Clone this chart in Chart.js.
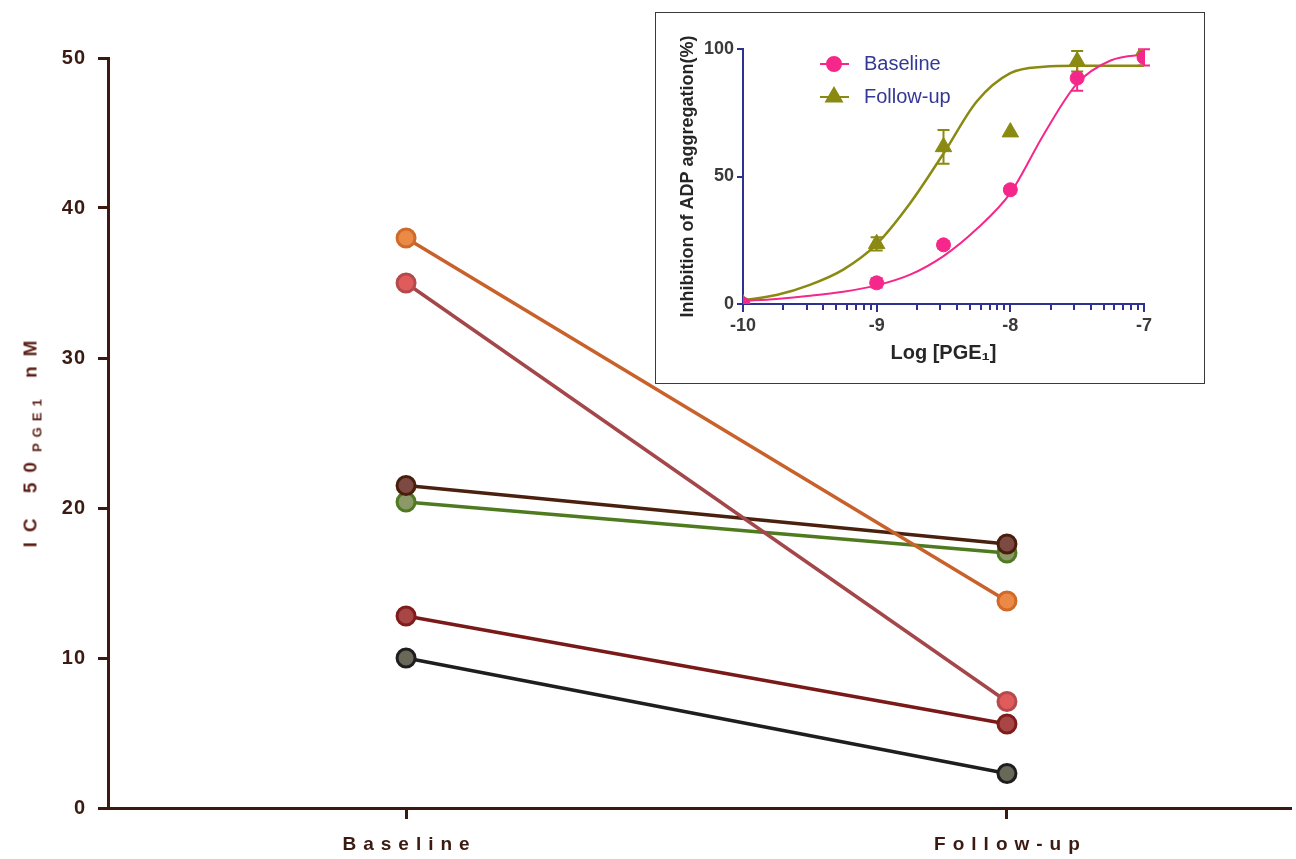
<!DOCTYPE html>
<html>
<head>
<meta charset="utf-8">
<title>IC50 PGE1 – Baseline vs Follow-up</title>
<script src="https://cdn.jsdelivr.net/npm/chart.js@4.4.1/dist/chart.umd.min.js"></script>
<style>
  html, body { margin: 0; padding: 0; background: #ffffff; }
  #wrap { position: relative; width: 1296px; height: 859px; overflow: hidden; }
  #main { position: absolute; left: 0; top: 0; }
  #insetBox {
    position: absolute; left: 655px; top: 12px; width: 550px; height: 372px;
    box-sizing: border-box; border: 1px solid #3a3a3a; background: #ffffff;
  }
  #inset { display: block; }
  #ytitle {
    position: absolute; left: 32px; top: 439px;
    transform: translate(-50%, -50%) rotate(-90deg);
    white-space: nowrap;
    font: bold 19px 'Liberation Sans', Arial, sans-serif;
    letter-spacing: 10px; color: #5a1d13;
  }
  #ytitle sub { font-size: 13px; vertical-align: -5px; letter-spacing: 6px; }
</style>
</head>
<body>
<div id="wrap">
  <canvas id="main" width="1296" height="859"></canvas>
  <div id="ytitle">IC 50<sub>PGE1</sub> nM</div>
  <div id="insetBox"><canvas id="inset" width="548" height="370"></canvas></div>
</div>
<script>
// ---- paired IC50 values (nM), one entry per subject ----
const categories = ['Baseline', 'Follow-up'];
const ic50Baseline = [38.0, 35.0, 21.5, 20.4, 12.8, 10.0];
const ic50FollowUp = [13.8, 7.1, 17.6, 17.0, 5.6, 2.3];
const yTickValues = [0, 10, 20, 30, 40, 50];

// ---- dose–response inset ----
const doseLog = [-10, -9, -8.5, -8, -7.5, -7];
const baselineMean = [0, 8.3, 23.2, 44.8, 88.6, 96.7];
const baselineSem = [0, 1.8, 1.5, 1.5, 5.0, 3.2];
const followUpMean = [0, 23.6, 61.6, 67.4, 95.2, 99.5];
const followUpSem = [0, 2.6, 6.6, 0, 4.0, 0];
const fitLog = [-10, -9.75, -9.5, -9.25, -9, -8.75, -8.5, -8.25, -8, -7.75, -7.5, -7.25, -7, -6.95];
const baselineFit = [1.2, 2.0, 3.2, 4.8, 7.3, 11.5, 18.8, 29.5, 43.5, 66.5, 86.5, 95.5, 97.8, 98.0];
const followUpFit = [1.5, 3.5, 7.5, 13.5, 23.5, 39.5, 59.0, 79.5, 90.5, 93.0, 93.4, 93.4, 93.4, 93.4];
const insetXTicks = [-10, -9, -8, -7];
const insetYTicks = [0, 50, 100];

// ---- styles ----
const AXIS = '#3b1a12';
const palette = [
  { line: '#c8622a', edge: '#cf6a28', fill: '#ea8a46' },
  { line: '#a4474a', edge: '#b44a4b', fill: '#e05b5b' },
  { line: '#4a200e', edge: '#4a1e0c', fill: '#7c4a42' },
  { line: '#4f7a20', edge: '#4f7a22', fill: '#8c9868' },
  { line: '#7a1a18', edge: '#801c1c', fill: '#a84646' },
  { line: '#1e1e1e', edge: '#1e1e1e', fill: '#6a6858' }
];
const PINK = '#f5278a';
const OLIVE = '#8a8a12';
const NAVY = '#2e3192';
const FONT = "'Liberation Sans', Arial, sans-serif";

// ---------- main paired chart ----------
const pairedDatasets = ic50Baseline.map((b, i) => ({
  data: [{ x: 0, y: b }, { x: 1, y: ic50FollowUp[i] }],
  borderColor: palette[i].line,
  borderWidth: 3.5,
  pointRadius: 9,
  pointBorderWidth: 3,
  pointBackgroundColor: palette[i].fill,
  pointBorderColor: palette[i].edge,
  tension: 0
}));

const categoryLabels = {
  id: 'categoryLabels',
  beforeDraw(chart) { chart.ctx.letterSpacing = '1px'; },
  afterDraw(chart) {
    const ctx = chart.ctx;
    const xs = chart.scales.x;
    ctx.save();
    ctx.letterSpacing = '7px';
    ctx.font = 'bold 19px ' + FONT;
    ctx.fillStyle = AXIS;
    ctx.textAlign = 'center';
    ctx.textBaseline = 'middle';
    categories.forEach((c, i) => {
      ctx.fillText(c, xs.getPixelForValue(i) + 3.5, 845);
    });
    ctx.restore();
    ctx.letterSpacing = '0px';
  }
};

new Chart(document.getElementById('main'), {
  type: 'line',
  data: { datasets: pairedDatasets },
  options: {
    responsive: false,
    animation: false,
    layout: { autoPadding: false, padding: { top: 58, right: 6, left: 0, bottom: 0 } },
    plugins: { legend: { display: false }, tooltip: { enabled: false } },
    scales: {
      x: {
        type: 'linear', min: -0.496, max: 1.471,
        afterBuildTicks: s => { s.ticks = categories.map((c, i) => ({ value: i })); },
        afterFit: s => { s.height = 51; },
        ticks: { display: false },
        grid: { drawOnChartArea: false, drawTicks: true, tickLength: 11, color: AXIS, lineWidth: 3 },
        border: { display: true, color: AXIS, width: 3 }
      },
      y: {
        min: 0, max: 50,
        afterBuildTicks: s => { s.ticks = yTickValues.map(v => ({ value: v })); },
        afterFit: s => { s.width = 108; },
        ticks: { font: { family: FONT, size: 20, weight: 'bold' }, color: AXIS, padding: 12 },
        grid: { drawOnChartArea: false, drawTicks: true, tickLength: 10, color: AXIS, lineWidth: 3 },
        border: { display: true, color: AXIS, width: 3 }
      }
    }
  },
  plugins: [categoryLabels]
});

// ---------- inset dose–response chart ----------
const insetExtras = {
  id: 'insetExtras',
  beforeDatasetsDraw(chart) {
    const ctx = chart.ctx;
    const xs = chart.scales.x, ys = chart.scales.y;
    ctx.save();
    ctx.lineWidth = 2;
    const bars = (mean, sem, color) => {
      ctx.strokeStyle = color;
      doseLog.forEach((d, i) => {
        if (!sem[i]) return;
        const px = xs.getPixelForValue(d);
        const top = ys.getPixelForValue(mean[i] + sem[i]);
        const bot = ys.getPixelForValue(mean[i] - sem[i]);
        ctx.beginPath();
        ctx.moveTo(px, top); ctx.lineTo(px, bot);
        ctx.moveTo(px - 6, top); ctx.lineTo(px + 6, top);
        ctx.moveTo(px - 6, bot); ctx.lineTo(px + 6, bot);
        ctx.stroke();
      });
    };
    bars(baselineMean, baselineSem, PINK);
    bars(followUpMean, followUpSem, OLIVE);
    ctx.restore();
  },
  afterDraw(chart) {
    const ctx = chart.ctx;
    const xs = chart.scales.x;
    const base = chart.chartArea.bottom;
    ctx.save();
    // minor log ticks between decades
    ctx.strokeStyle = NAVY;
    ctx.lineWidth = 2;
    ctx.beginPath();
    for (let d = -10; d < -7; d++) {
      for (let k = 2; k <= 9; k++) {
        const px = Math.round(xs.getPixelForValue(d + Math.log10(k)));
        ctx.moveTo(px, base); ctx.lineTo(px, base + 6);
      }
    }
    ctx.stroke();
    // legend
    const items = [
      { text: 'Baseline', color: PINK, style: 'circle', r: 7, y: 51 },
      { text: 'Follow-up', color: OLIVE, style: 'triangle', r: 9, y: 84 }
    ];
    items.forEach(it => {
      ctx.strokeStyle = it.color;
      ctx.lineWidth = 2;
      ctx.beginPath(); ctx.moveTo(164, it.y); ctx.lineTo(193, it.y); ctx.stroke();
      ctx.fillStyle = it.color;
      Chart.helpers.drawPoint(ctx, { pointStyle: it.style, radius: it.r, borderWidth: 1, rotation: 0 }, 178, it.y);
      ctx.fill();
      ctx.fillStyle = '#343895';
      ctx.font = '20px ' + FONT;
      ctx.textAlign = 'left';
      ctx.textBaseline = 'middle';
      ctx.fillText(it.text, 208, it.y);
    });
    ctx.restore();
  }
};

new Chart(document.getElementById('inset'), {
  type: 'scatter',
  data: {
    datasets: [
      {
        data: doseLog.map((d, i) => ({ x: d, y: baselineMean[i] })),
        pointStyle: 'circle', pointRadius: 7,
        pointBackgroundColor: PINK, pointBorderColor: PINK, pointBorderWidth: 1
      },
      {
        data: doseLog.map((d, i) => ({ x: d, y: followUpMean[i] })),
        pointStyle: 'triangle', pointRadius: 9.5,
        pointBackgroundColor: OLIVE, pointBorderColor: OLIVE, pointBorderWidth: 1
      },
      {
        data: fitLog.map((d, i) => ({ x: d, y: baselineFit[i] })),
        showLine: true, pointRadius: 0, borderColor: PINK, borderWidth: 2,
        cubicInterpolationMode: 'monotone', clip: false
      },
      {
        data: fitLog.map((d, i) => ({ x: d, y: followUpFit[i] })),
        showLine: true, pointRadius: 0, borderColor: OLIVE, borderWidth: 2.5,
        cubicInterpolationMode: 'monotone', clip: false
      }
    ]
  },
  options: {
    responsive: false,
    animation: false,
    layout: { padding: { top: 36, right: 60, left: 0, bottom: 0 } },
    plugins: { legend: { display: false }, tooltip: { enabled: false } },
    scales: {
      x: {
        type: 'linear', min: -10, max: -7,
        afterBuildTicks: s => { s.ticks = insetXTicks.map(v => ({ value: v })); },
        afterFit: s => { s.height = 79; },
        ticks: { font: { family: FONT, size: 18, weight: 'bold' }, color: '#3a3a3a', padding: 3 },
        grid: { drawOnChartArea: false, drawTicks: true, tickLength: 8, color: NAVY, lineWidth: 2 },
        border: { display: true, color: NAVY, width: 2 },
        title: {
          display: true, text: 'Log [PGE\u2081]', color: '#262626',
          font: { family: FONT, size: 20, weight: 'bold' }, padding: { top: 0, bottom: 18 }
        }
      },
      y: {
        min: 0, max: 100,
        afterBuildTicks: s => { s.ticks = insetYTicks.map(v => ({ value: v })); },
        afterFit: s => { s.width = 87; },
        ticks: { font: { family: FONT, size: 18, weight: 'bold' }, color: '#3a3a3a', padding: 3 },
        grid: { drawOnChartArea: false, drawTicks: true, tickLength: 6, color: NAVY, lineWidth: 2 },
        border: { display: true, color: NAVY, width: 2 },
        title: {
          display: true, text: 'Inhibition of ADP aggregation(%)', color: '#262626',
          font: { family: FONT, size: 18, weight: 'bold' }, padding: { top: 21, bottom: 0 }
        }
      }
    }
  },
  plugins: [insetExtras]
});
</script>
</body>
</html>
